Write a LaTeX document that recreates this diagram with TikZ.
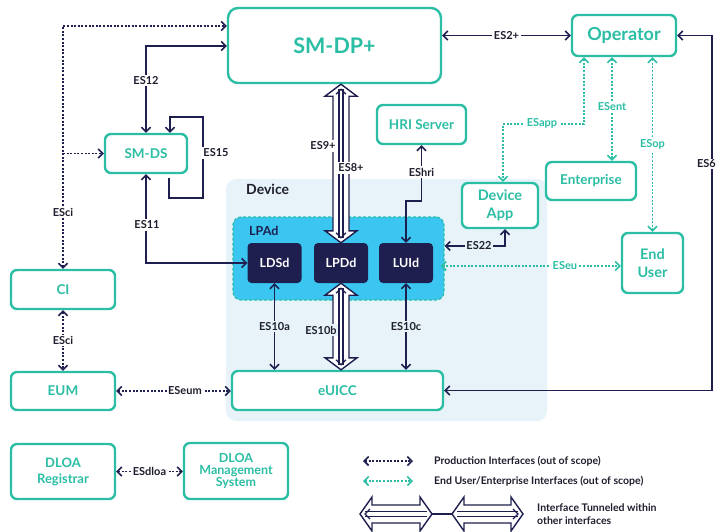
\documentclass[tikz,border=0pt]{standalone}
\usepackage{fontspec}
\setmainfont{Lato}
\usetikzlibrary{arrows.meta,calc}

\definecolor{tealc}{HTML}{2BBEA5}
\definecolor{navy}{HTML}{1F1F4F}
\definecolor{devbg}{HTML}{E7F3F9}
\definecolor{lpadc}{HTML}{3AC6F0}
\definecolor{ink}{HTML}{1E1E2E}

\tikzset{
  tbox/.style={draw=tealc, line width=2.4pt, rounded corners=6pt, fill=white,
    text=tealc, font=\fontsize{13.5}{15}\selectfont\bfseries, align=center, inner sep=0pt},
  dbox/.style={fill=navy, rounded corners=4pt, text=white,
    font=\fontsize{12.5}{14}\selectfont\bfseries, minimum width=54pt,
    minimum height=40pt, inner sep=0pt},
  conn/.style={draw=navy, line width=1.6pt,
    >={Straight Barb[length=4.5pt,width=9pt]}},
  prod/.style={conn, dash pattern=on 2pt off 1.6pt},
  eu/.style={conn, draw=tealc, dash pattern=on 2pt off 1.6pt},
  lab/.style={fill=white, text=ink, font=\fontsize{11}{12}\selectfont\bfseries, inner sep=1.5pt},
  dlab/.style={lab, fill=devbg},
  elab/.style={lab, text=tealc},
  tunnel/.style={draw=navy, fill=white, line width=1.4pt, line join=miter},
  legtext/.style={text=ink, font=\fontsize{10.5}{13.5}\selectfont\bfseries, anchor=west, inner sep=0pt, align=left},
}

% hollow double-headed arrow carrying an inner interface, vertical (top tip, bottom tip)
\newcommand\vtunnel[2]{%
  \filldraw[tunnel] (#1) -- ($(#1)+(16,12)$) -- ($(#1)+(8,12)$) -- ($(#2)+(8,-12)$)
    -- ($(#2)+(16,-12)$) -- (#2) -- ($(#2)+(-16,-12)$) -- ($(#2)+(-8,-12)$)
    -- ($(#1)+(-8,12)$) -- ($(#1)+(-16,12)$) -- cycle;
  \draw[conn, line width=1.2pt] ($(#1)+(-2,5)$) -- ($(#2)+(-2,-5)$)
    ($(#1)+(2,5)$) -- ($(#2)+(2,-5)$);
  \draw[conn, line width=1.3pt] ($(#1)+(-5,10)$) -- ($(#1)+(0,5)$) -- ($(#1)+(5,10)$)
    ($(#2)+(-5,-10)$) -- ($(#2)+(0,-5)$) -- ($(#2)+(5,-10)$);
}
% same, horizontal (left tip, right tip)
\newcommand\htunnel[2]{%
  \filldraw[tunnel] (#1) -- ($(#1)+(12,-17)$) -- ($(#1)+(12,-9)$) -- ($(#2)+(-12,-9)$)
    -- ($(#2)+(-12,-17)$) -- (#2) -- ($(#2)+(-12,17)$) -- ($(#2)+(-12,9)$)
    -- ($(#1)+(12,9)$) -- ($(#1)+(12,17)$) -- cycle;
  \draw[conn, line width=1.2pt] ($(#1)+(5,-2.5)$) -- ($(#2)+(-5,-2.5)$)
    ($(#1)+(5,2.5)$) -- ($(#2)+(-5,2.5)$);
}

\begin{document}
\begin{tikzpicture}[x=1pt, y=-1pt]
\useasboundingbox (0,0) rectangle (717,531);

% device area and local profile assistant
\fill[devbg, rounded corners=10pt] (226,179) rectangle (547,421);
\node[text=ink, font=\fontsize{14}{15}\selectfont\bfseries, anchor=west, inner sep=0pt] (devlbl) at (246,189) {Device};
\node[draw=tealc, dash pattern=on 3pt off 2pt, line width=1.2pt, fill=lpadc,
      rounded corners=8pt, minimum width=211pt, minimum height=83pt] (lpad) at (338.5,258.5) {};
\node[text=navy, font=\fontsize{12.5}{13}\selectfont\bfseries, anchor=west, inner sep=0pt] (lpadlbl) at (249,231) {LPAd};

% boxes
\node[tbox, rounded corners=10pt, minimum width=213pt, minimum height=75pt,
      font=\fontsize{21.5}{23}\selectfont\bfseries] (dp) at (334.5,45.5) {SM-DP+};
\node[tbox, minimum width=104pt, minimum height=41pt,
      font=\fontsize{18}{19}\selectfont\bfseries] (op) at (624,35.5) {Operator};
\node[tbox, minimum width=89pt, minimum height=39pt] (hri) at (421.5,124.5) {HRI Server};
\node[tbox, minimum width=90pt, minimum height=38pt] (ent) at (591,181) {Enterprise};
\node[tbox, minimum width=76pt, minimum height=45pt, font=\fontsize{14.5}{17.5}\selectfont\bfseries] (app) at (500,205.5) {Device\\App};
\node[tbox, minimum width=61pt, minimum height=60pt, font=\fontsize{14.5}{17.5}\selectfont\bfseries] (usr) at (652.5,263) {End\\User};
\node[tbox, minimum width=82pt, minimum height=39pt] (smds) at (146,153.5) {SM-DS};
\node[tbox, minimum width=104pt, minimum height=39pt] (ci) at (63,289.5) {CI};
\node[tbox, minimum width=104pt, minimum height=38pt] (eum) at (63,391) {EUM};
\node[tbox, minimum width=104pt, minimum height=55pt, font=\fontsize{13}{16}\selectfont\bfseries] (reg) at (63,471.5) {DLOA\\Registrar};
\node[tbox, minimum width=104pt, minimum height=56pt, font=\fontsize{12.5}{12}\selectfont\bfseries] (dms) at (236,471) {DLOA\\Management\\System};
\node[tbox, minimum width=211pt, minimum height=39pt] (euicc) at (337.5,390.5) {eUICC};

\node[dbox] (ldsd) at (274.5,263) {LDSd};
\node[dbox] (lpdd) at (341,263) {LPDd};
\node[dbox] (luid) at (406,263) {LUId};

% tunnelled interfaces
\coordinate (t9) at (lpdd.north |- dp.south);
\vtunnel{t9}{lpdd.north}
\coordinate (b10) at (lpdd.south |- euicc.north);
\vtunnel{lpdd.south}{b10}
\node[lab] at (323,146) {ES9+};
\node[lab] at (351,168) {ES8+};
\node[dlab] at (321,330) {ES10b};

% production interfaces
\draw[conn, <->] (op.west -| dp.east) -- node[lab] {ES2+} (op.west);
\draw[conn, <->] (op.east) -- ++(35,0) |- (euicc.east);
\node[lab, anchor=east, inner sep=1pt] at (717,164) {ES6};
\draw[conn, <->] (smds.north) |- node[lab, pos=0.3] {ES12} ($(dp.west)+(0,0.5)$);
\draw[conn, ->] ($(smds.south)+(23,3.5)$) -- ++(0,20) -- ++(34,0) -- ++(0,-81)
      -- ++(-33,0) -- ($(smds.north)+(24,0)$);
\node[lab] at (216,153) {ES15};
\draw[conn, <->] (smds.south) |- (ldsd.west);
\node[lab] at (147,225) {ES11};
\draw[conn, <->] (ldsd.south) -- node[dlab] {ES10a} (ldsd.south |- euicc.north);
\draw[conn, <->] (luid.south) -- node[dlab] {ES10c} (luid.south |- euicc.north);
\draw[conn, <->] (hri.south) -- ++(0,56) -| (luid.north);
\node[lab] at (421.5,172) {EShri};
\draw[conn, <->] ($(lpad.east)+(0,-12.5)$) -| ($(app.south)+(5,0)$);
\node[dlab] at (479,246) {ES22};

\draw[prod, <->] (ci.north) |- ($(dp.west)+(0,-19.5)$);
\draw[prod, ->] (ci.north |- smds.west) -- (smds.west);
\node[lab] at (63,212) {ESci};
\draw[prod, <->] (ci.south) -- node[lab] {ESci} (eum.north);
\draw[prod, <->] (eum.east) -- node[lab, pos=0.6] {ESeum} (eum.east -| euicc.west);
\draw[prod, <->] (reg.east) -- node[lab] {ESdloa} (reg.east -| dms.west);

% end user / enterprise interfaces
\coordinate (appx) at ($(op.south)+(-40,0)$);
\draw[eu, <->] (appx) -- ++(0,67) -| ($(app.north)+(3,0)$);
\node[elab] at (542,123) {ESapp};
\coordinate (entx) at ($(op.south)+(-12,0)$);
\draw[eu, <->] (entx) -- node[elab, pos=0.48] {ESent} (entx |- ent.north);
\draw[eu, <->] (op.south -| usr.north) -- node[elab, pos=0.5] {ESop} (usr.north);
\draw[eu, <->] ($(lpad.east)+(-4,7.5)$) -- node[elab, pos=0.69] {ESeu} ($(usr.west)+(0,3)$);

% legend
\coordinate (la1) at (363,461); \coordinate (la2) at (413,461);
\draw[prod, <->] (la1) -- (la2);
\node[legtext] (lt1) at (434,461) {Production Interfaces (out of scope)};
\coordinate (lb1) at (363,481); \coordinate (lb2) at (413,481);
\draw[eu, <->] (lb1) -- (lb2);
\node[legtext] (lt2) at (434,481) {End User/Enterprise Interfaces (out of scope)};
\coordinate (lc1) at (360,514); \coordinate (lc2) at (432,514);
\coordinate (lc3) at (452,514); \coordinate (lc4) at (523,514);
\htunnel{lc1}{lc2}
\htunnel{lc3}{lc4}
\draw[conn, line width=1.2pt] (lc2) -- (lc3);
\draw[conn, line width=1.3pt] ($(lc1)+(10,-5)$) -- ($(lc1)+(5,0)$) -- ($(lc1)+(10,5)$)
      ($(lc4)+(-10,-5)$) -- ($(lc4)+(-5,0)$) -- ($(lc4)+(-10,5)$);
\node[legtext] (lt3) at (537,514) {Interface Tunneled within\\other interfaces};
\end{tikzpicture}
\end{document}
